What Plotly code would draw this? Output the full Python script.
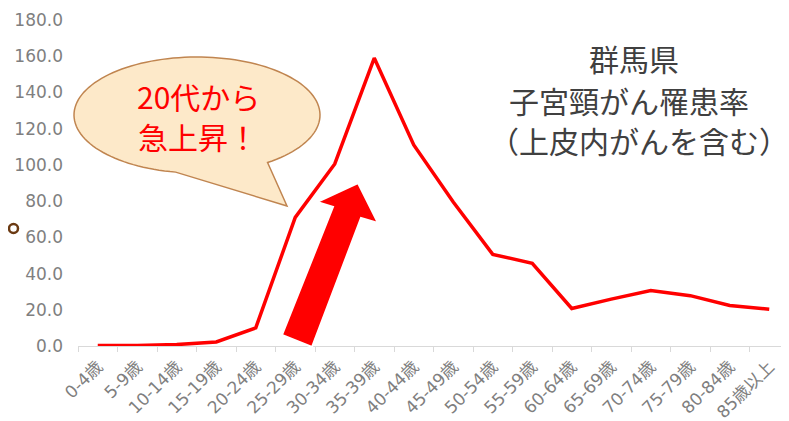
import numpy as np
import plotly.graph_objects as go

# ---- data ----
categories = ["0-4歳", "5-9歳", "10-14歳", "15-19歳", "20-24歳", "25-29歳", "30-34歳",
              "35-39歳", "40-44歳", "45-49歳", "50-54歳", "55-59歳", "60-64歳", "65-69歳",
              "70-74歳", "75-79歳", "80-84歳", "85歳以上"]
rates = [0.3, 0.3, 0.8, 2.2, 10.0, 71.0, 100.5, 159.0, 111.0, 79.5, 50.6, 45.7,
         20.7, 25.9, 30.6, 27.8, 22.4, 20.3]
y_ticks = [0, 20, 40, 60, 80, 100, 120, 140, 160, 180]
bubble_lines = ["20代から", "急上昇！"]
title_lines = ["群馬県", "子宮頸がん罹患率", "（上皮内がんを含む）"]

OFF = 8                      # page body margin
W, H = 789 - OFF, 421 - OFF
ML, MR, MT, MB = 78 - OFF, 0, 20 - OFF, 75
PW, PH = W - ML - MR, H - MT - MB


def px(x, y):
    """page pixel -> paper coordinates"""
    x, y = x - OFF, y - OFF
    return (x - ML) / PW, (H - MB - y) / PH


def path_from(points, close=True):
    s = ""
    for i, (x, y) in enumerate(points):
        u, v = px(x, y)
        s += ("M" if i == 0 else "L") + f"{u:.5f},{v:.5f} "
    return s + ("Z" if close else "")


fig = go.Figure()
fig.add_trace(go.Scatter(x=categories, y=rates, mode="lines",
                         line=dict(color="#FF0000", width=3.5), showlegend=False,
                         hoverinfo="skip"))

# speech bubble (ellipse + tail)
cx, cy, rx, ry = 197, 115, 123, 58
a_start = np.deg2rad(55)   # right base of tail (angle measured with y downward)
a_end = np.deg2rad(100)    # left base of tail
angles = np.linspace(a_start, a_end - 2 * np.pi, 120)
pts = [(cx + rx * np.cos(a), cy + ry * np.sin(a)) for a in angles]
pts.append((287, 206))
fig.add_shape(type="path", xref="paper", yref="paper",
              path=path_from(pts), fillcolor="#FDE9C9",
              line=dict(color="#C08550", width=1.5), layer="above")

# big red arrow
arrow = [(282, 335), (312, 347), (361, 218), (378, 223), (358, 183), (317, 202), (333, 207)]
fig.add_shape(type="path", xref="paper", yref="paper", path=path_from(arrow),
              fillcolor="#FF0000", line=dict(color="#FFFFFF", width=2), layer="above")

# small ring at far left
u0, v0 = px(9, 233)
u1, v1 = px(18, 224)
fig.add_shape(type="circle", xref="paper", yref="paper", x0=u0, y0=v0, x1=u1, y1=v1,
              line=dict(color="#6B3A12", width=2.5), fillcolor="rgba(0,0,0,0)")

font_jp = "Noto Sans CJK JP"
font_tick = "DejaVu Sans, Noto Sans CJK JP"

for text, (lx, ly) in zip(bubble_lines, [(198, 96), (198, 136)]):
    u, v = px(lx, ly)
    fig.add_annotation(xref="paper", yref="paper", x=u, y=v, showarrow=False,
                       xanchor="center", yanchor="middle", text=text, borderpad=0,
                       font=dict(family=font_jp, size=30, color="#FF0000"))

for text, (lx, ly) in zip(title_lines, [(634, 58), (629, 100), (639, 140)]):
    u, v = px(lx, ly)
    fig.add_annotation(xref="paper", yref="paper", x=u, y=v, showarrow=False,
                       xanchor="center", yanchor="middle", text=text, borderpad=0,
                       font=dict(family=font_jp, size=30, color="#404040"))

fig.update_layout(
    width=W, height=H, margin=dict(l=ML, r=MR, t=MT, b=MB, autoexpand=False),
    paper_bgcolor="white", plot_bgcolor="white",
    font=dict(family=font_jp, color="#7F7F7F"),
    xaxis=dict(type="category", range=[-0.5, 17.5], tickangle=-45, automargin=False,
               showline=True, linecolor="#D9D9D9", linewidth=1,
               ticks="outside", tickson="boundaries", ticklen=5, tickcolor="#D9D9D9",
               ticklabelstandoff=3,
               showgrid=False, tickfont=dict(family=font_tick, size=17, color="#7F7F7F")),
    yaxis=dict(range=[0, 180], tickvals=y_ticks, tickformat=".1f", showgrid=False,
               zeroline=False, showline=False, ticklabelstandoff=14, automargin=False,
               tickfont=dict(family=font_tick, size=17, color="#7F7F7F")),
)

fig.write_html("out.html")
